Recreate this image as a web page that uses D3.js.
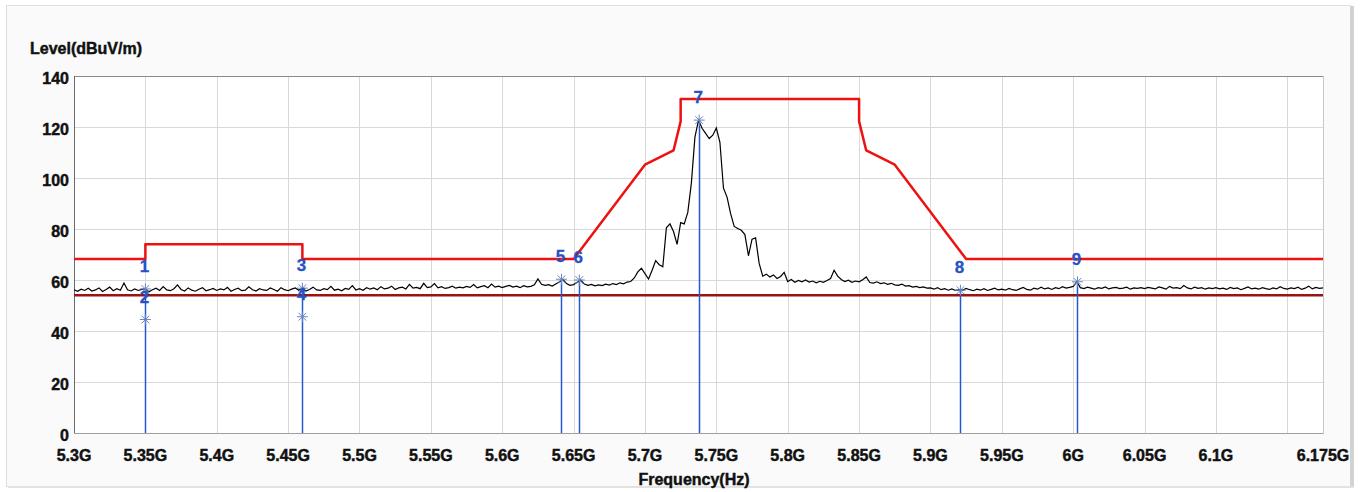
<!DOCTYPE html>
<html>
<head>
<meta charset="utf-8">
<script src="https://cdn.jsdelivr.net/npm/d3@7"></script>
<style>
  html, body { margin: 0; padding: 0; background: #ffffff; }
  svg { display: block; font-family: Arial, "Liberation Sans", sans-serif; }
</style>
</head>
<body>
<svg id="chart" width="1361" height="492"></svg>
<script>
// tick labels
var xTicks = [5.3, 5.35, 5.4, 5.45, 5.5, 5.55, 5.6, 5.65, 5.7, 5.75, 5.8, 5.85, 5.9, 5.95, 6.0, 6.05, 6.1, 6.175];
var xTickLabels = ["5.3G", "5.35G", "5.4G", "5.45G", "5.5G", "5.55G", "5.6G", "5.65G", "5.7G", "5.75G", "5.8G", "5.85G", "5.9G", "5.95G", "6G", "6.05G", "6.1G", "6.175G"];
var xGrid = [5.35, 5.4, 5.45, 5.5, 5.55, 5.6, 5.65, 5.7, 5.75, 5.8, 5.85, 5.9, 5.95, 6.0, 6.05, 6.1, 6.15];
var yTicks = [0, 20, 40, 60, 80, 100, 120, 140];

// peak limit (dBuV/m)
var limitFreq = [5.3, 5.35, 5.35, 5.46, 5.46, 5.65, 5.70, 5.72, 5.725, 5.725, 5.85, 5.85, 5.855, 5.875, 5.925, 6.175];
var limitLevel = [68.2, 68.2, 74, 74, 68.2, 68.2, 105.2, 110.8, 122.2, 131, 131, 122.2, 110.8, 105.2, 68.2, 68.2];

// average limit
var avgFreq = [5.3, 6.175];
var avgLevel = [54, 54];

// measured trace, sweep start 5.3G, step 2.5MHz
var traceStart = 5.3;
var traceStep = 0.0025;
var traceLevel = [
  56.2,55.6,56.4,55.9,56.8,55.7,56.1,56.9,55.5,56.3,57.2,55.8,56.6,56.0,58.8,56.2,55.7,56.5,55.9,56.3,
  56.5,55.4,56.2,56.8,55.9,57.4,56.1,55.8,56.6,58.1,56.3,55.7,56.9,56.0,55.6,56.4,57.0,55.8,56.2,56.7,
  55.9,56.5,56.1,57.1,55.6,56.3,56.8,55.8,56.0,57.3,56.2,55.7,56.6,56.1,55.9,56.9,56.3,55.6,57.0,56.2,
  55.8,56.4,56.9,56.0,56.8,55.7,56.3,57.2,56.1,55.9,56.6,56.2,57.5,56.0,56.4,55.8,56.7,56.3,57.8,56.1,
  56.6,56.0,57.0,56.4,56.9,56.2,57.4,56.5,56.8,57.6,56.3,56.9,57.2,56.5,58.3,56.8,57.1,56.6,58.7,57.0,
  57.3,58.6,56.9,57.4,56.7,57.0,57.6,56.8,57.2,56.9,57.5,57.1,58.2,56.9,57.4,57.8,57.0,58.4,57.2,57.6,
  57.0,57.5,57.9,57.2,57.6,57.0,57.8,57.3,57.5,58.1,60.4,58.3,57.9,58.2,57.6,58.4,59.2,60.3,58.6,57.9,
  58.2,59.1,60.0,58.4,57.9,58.3,57.7,58.1,57.8,58.4,58.0,58.6,58.2,58.9,58.5,59.2,59.4,60.8,63.2,64.6,
  62.5,60.4,63.8,67.6,66.0,65.2,80.5,82.0,79.0,74.0,82.5,82.0,86.5,98.0,116.0,122.7,119.5,117.5,115.5,116.8,
  119.6,114.0,96.0,92.5,86.0,81.0,80.2,79.5,77.8,69.5,76.0,76.5,66.5,61.5,62.3,61.2,62.0,60.6,61.4,63.0,
  59.4,60.2,59.1,59.8,59.3,60.0,59.2,59.6,58.9,59.5,59.1,59.8,60.6,63.8,61.5,60.2,59.4,59.9,59.1,59.6,
  59.3,60.1,61.2,59.0,58.8,59.3,58.6,58.9,58.3,58.7,58.1,57.9,58.4,57.6,57.8,57.2,57.5,57.0,57.3,56.8,
  56.9,56.4,57.0,56.2,56.6,56.0,56.5,55.9,56.1,56.0,56.7,56.2,55.8,56.4,56.0,56.6,55.9,56.3,56.8,56.1,
  56.4,56.0,56.7,56.2,55.9,56.5,57.1,56.3,56.0,56.8,56.4,57.2,56.5,56.9,56.3,57.0,56.6,57.4,56.8,57.1,
  57.5,59.3,57.0,56.6,57.2,56.8,56.4,57.0,56.7,57.3,56.5,56.9,57.1,56.6,56.8,57.2,56.4,56.9,56.7,57.0,
  56.6,57.1,56.8,56.5,57.3,56.9,56.4,57.5,56.8,57.0,56.6,57.8,56.9,56.5,57.2,56.7,57.0,56.4,56.9,56.6,
  57.0,56.5,56.8,56.3,57.1,56.6,56.9,56.2,56.7,57.3,56.5,56.8,56.4,57.0,56.6,56.3,56.9,56.5,57.4,56.7,
  56.4,56.9,56.6,57.2,56.3,56.8,57.6,56.5,57.1,56.7,56.9
];

// markers
var markerName = ["1", "2", "3", "4", "5", "6", "7", "8", "9"];
var markerFreq = [5.35, 5.35, 5.46, 5.46, 5.6415, 5.654, 5.738, 5.921, 6.003];
var markerLevel = [56.5, 44.5, 56.8, 45.6, 60.3, 60.0, 122.7, 56.0, 59.3];

var svg = d3.select("#chart");
var pLeft = 74, pRight = 1323, pTop = 76, pBottom = 433;

var x = d3.scaleLinear().domain([5.3, 6.175]).range([pLeft, pRight]);
var y = d3.scaleLinear().domain([0, 140]).range([pBottom, pTop]);

// frame
svg.append("rect").attr("x", 6.5).attr("y", 5.5).attr("width", 1344).attr("height", 481)
   .attr("fill", "#fafafa").attr("stroke", "#dedede");
svg.append("rect").attr("x", 1350).attr("y", 6).attr("width", 4).attr("height", 482).attr("fill", "#d2d2d2");
svg.append("rect").attr("x", 8).attr("y", 486).attr("width", 1346).attr("height", 2).attr("fill", "#e2e2e2");

svg.append("rect").attr("x", pLeft).attr("y", pTop).attr("width", pRight - pLeft).attr("height", pBottom - pTop)
   .attr("fill", "#ffffff");

// grid
svg.append("g").selectAll("line").data(xGrid).enter().append("line")
   .attr("x1", d => Math.round(x(d)) + 0.5).attr("x2", d => Math.round(x(d)) + 0.5)
   .attr("y1", pTop).attr("y2", pBottom)
   .attr("stroke", "#d9d9d9").attr("stroke-width", 1);
svg.append("g").selectAll("line").data(yTicks.slice(1, -1)).enter().append("line")
   .attr("x1", pLeft).attr("x2", pRight)
   .attr("y1", d => Math.round(y(d)) + 0.5).attr("y2", d => Math.round(y(d)) + 0.5)
   .attr("stroke", "#d9d9d9").attr("stroke-width", 1);

// plot border
svg.append("rect").attr("x", pLeft + 0.5).attr("y", pTop + 0.5).attr("width", pRight - pLeft).attr("height", pBottom - pTop)
   .attr("fill", "none").attr("stroke", "#c8c8c8");
svg.append("line").attr("x1", pLeft + 0.5).attr("x2", pRight).attr("y1", pTop + 0.5).attr("y2", pTop + 0.5)
   .attr("stroke", "#8a8a8a");
svg.append("line").attr("x1", pLeft + 0.5).attr("x2", pLeft + 0.5).attr("y1", pTop).attr("y2", pBottom)
   .attr("stroke", "#6a6a6a");
svg.append("line").attr("x1", pLeft).attr("x2", pRight).attr("y1", pBottom + 0.5).attr("y2", pBottom + 0.5)
   .attr("stroke", "#a0a0a0");

// axis labels
var heavy = function(sel) {
  sel.attr("font-weight", "bold").attr("fill", "#111")
     .attr("stroke", "#111").attr("stroke-width", 0.45);
};
svg.append("g").selectAll("text").data(yTicks).enter().append("text")
   .attr("x", 69).attr("y", d => y(d) + 7.5)
   .attr("text-anchor", "end").attr("font-size", 16).call(heavy)
   .text(d => d);
svg.append("g").selectAll("text").data(xTicks).enter().append("text")
   .attr("x", d => x(d)).attr("y", 461)
   .attr("text-anchor", "middle").attr("font-size", 16).call(heavy)
   .text((d, i) => xTickLabels[i]);

svg.append("text").attr("x", 30).attr("y", 54)
   .attr("font-size", 16).call(heavy)
   .text("Level(dBuV/m)");
svg.append("text").attr("x", 694).attr("y", 485).attr("text-anchor", "middle")
   .attr("font-size", 16).call(heavy)
   .text("Frequency(Hz)");

var line = d3.line().x(d => x(d[0])).y(d => y(d[1]));

// average limit
svg.append("path").datum(avgFreq.map((f, i) => [f, avgLevel[i]]))
   .attr("d", line).attr("fill", "none").attr("stroke", "#9a1212").attr("stroke-width", 2.5);

// trace
var trace = traceLevel.map((v, i) => [traceStart + i * traceStep, v]);
svg.append("path").datum(trace)
   .attr("d", line).attr("fill", "none").attr("stroke", "#000").attr("stroke-width", 1.2)
   .attr("stroke-linejoin", "miter");

// peak limit
svg.append("path").datum(limitFreq.map((f, i) => [f, limitLevel[i]]))
   .attr("d", line).attr("fill", "none").attr("stroke", "#ee1111").attr("stroke-width", 2.5)
   .attr("stroke-linejoin", "round");

// markers
var mk = svg.append("g");
markerFreq.forEach(function(f, i) {
  var highest = d3.max(markerFreq.map((g, j) => g === f ? markerLevel[j] : 0));
  if (markerLevel[i] === highest) {
    mk.append("line")
      .attr("x1", Math.round(x(f)) + 0.5).attr("x2", Math.round(x(f)) + 0.5)
      .attr("y1", pBottom).attr("y2", y(markerLevel[i]))
      .attr("stroke", "#2458d0").attr("stroke-width", 1.5);
  }
});
var star = function(cx, cy, r) {
  var p = d3.path();
  p.moveTo(cx - r, cy); p.lineTo(cx + r, cy);
  p.moveTo(cx, cy - r); p.lineTo(cx, cy + r);
  var s = r * 0.7;
  p.moveTo(cx - s, cy - s); p.lineTo(cx + s, cy + s);
  p.moveTo(cx - s, cy + s); p.lineTo(cx + s, cy - s);
  return p.toString();
};
markerFreq.forEach(function(f, i) {
  mk.append("path").attr("d", star(x(f), y(markerLevel[i]), 5.5))
    .attr("fill", "none").attr("stroke", "#6a86c0").attr("stroke-width", 1);
  mk.append("text")
    .attr("x", x(f) - 1).attr("y", y(markerLevel[i]) - 17)
    .attr("text-anchor", "middle").attr("font-size", 17).attr("font-weight", "bold")
    .attr("fill", "#2752c4").attr("stroke", "#2752c4").attr("stroke-width", 0.3)
    .text(markerName[i]);
});
</script>
</body>
</html>
